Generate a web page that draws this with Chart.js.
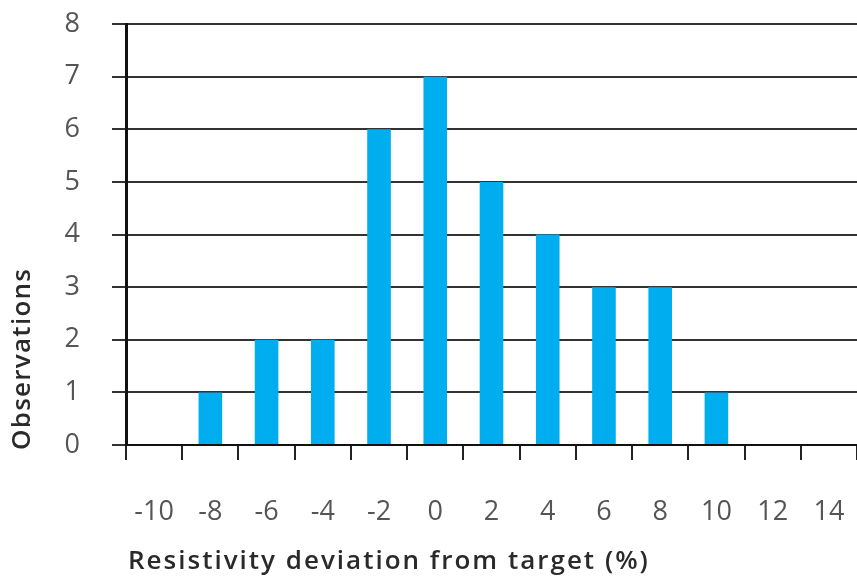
<!DOCTYPE html>
<html>
<head>
<meta charset="utf-8">
<script src="https://cdn.jsdelivr.net/npm/chart.js@4"></script>
<style>
  body { margin: 0; background: #fff; }
</style>
</head>
<body>
<canvas id="histChart" width="857" height="578"></canvas>
<script>
// Data
const deviations = ["-10", "-8", "-6", "-4", "-2", "0", "2", "4", "6", "8", "10", "12", "14"];
const observations = [0, 1, 2, 2, 6, 7, 5, 4, 3, 3, 1, 0, 0];
const yTicks = [0, 1, 2, 3, 4, 5, 6, 7, 8];

const xTitle = "Resistivity deviation from target (%)";
const yTitle = "Observations";

const FONT = "'Open Sans', 'Noto Sans', sans-serif";

// the original font is wider than Open Sans, so spread letters to the same length
function spreadText(ctx, text, x, y, targetWidth) {
  ctx.letterSpacing = "0px";
  const w = ctx.measureText(text).width;
  const extra = Math.max(0, (targetWidth - w) / (text.length - 1));
  ctx.letterSpacing = extra.toFixed(2) + "px";
  ctx.fillText(text, x, y);
  ctx.letterSpacing = "0px";
}

// axis titles sit where the original has them (not centred on the axes)
const axisTitles = {
  id: "axisTitles",
  afterDraw(chart) {
    const ctx = chart.ctx;
    ctx.save();
    ctx.fillStyle = "#2a2a2a";
    ctx.font = "600 26px " + FONT;
    ctx.textBaseline = "middle";
    ctx.textAlign = "left";

    spreadText(ctx, xTitle, 128, 562, 520);

    ctx.translate(23, 450);
    ctx.rotate(-Math.PI / 2);
    spreadText(ctx, yTitle, 0, 0, 181);
    ctx.restore();
  }
};

const ctx = document.getElementById("histChart").getContext("2d");

new Chart(ctx, {
  type: "bar",
  data: {
    labels: deviations,
    datasets: [{
      data: observations,
      backgroundColor: "#00AEEF",
      borderWidth: 0,
      barPercentage: 0.42,
      categoryPercentage: 1.0
    }]
  },
  options: {
    responsive: false,
    animation: false,
    layout: {
      padding: { top: 24, right: 0, bottom: 0, left: 0 }
    },
    plugins: {
      legend: { display: false },
      tooltip: { enabled: false }
    },
    scales: {
      x: {
        offset: true,
        afterFit: scale => {
          scale.height = 133;
          scale.paddingLeft = 0;
          scale.paddingRight = 0;
        },
        grid: {
          offset: true,
          drawOnChartArea: false,
          drawTicks: true,
          tickLength: 15,
          color: "#222",
          lineWidth: 2
        },
        border: { display: true, color: "#111", width: 2 },
        ticks: {
          color: "#555",
          padding: 36,
          maxRotation: 0,
          autoSkip: false,
          font: { family: FONT, size: 27 }
        }
      },
      y: {
        min: 0,
        max: 8,
        afterFit: scale => {
          scale.width = 126;
          scale.paddingTop = 0;
          scale.paddingBottom = 0;
        },
        afterBuildTicks: scale => {
          scale.ticks = yTicks.map(v => ({ value: v }));
        },
        grid: {
          color: "#333",
          lineWidth: 2,
          tickLength: 14
        },
        border: { display: true, color: "#111", width: 3 },
        ticks: {
          color: "#555",
          padding: 32,
          font: { family: FONT, size: 27 }
        }
      }
    }
  },
  plugins: [axisTitles]
});
</script>
</body>
</html>
